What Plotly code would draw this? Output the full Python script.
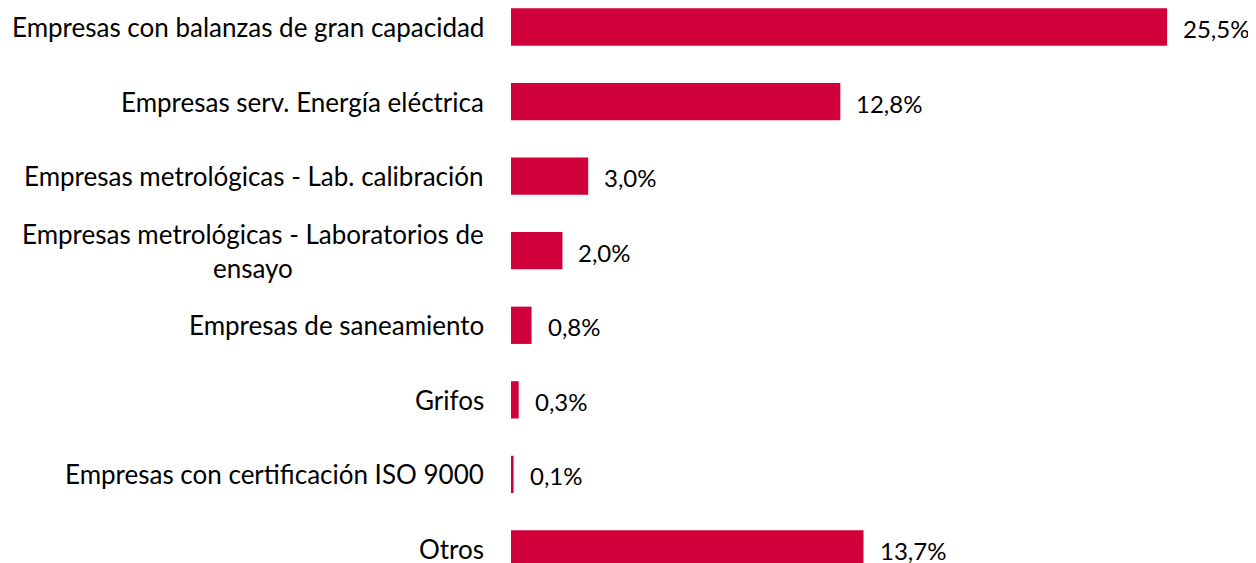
import plotly.graph_objects as go

categories = [
    "Empresas con balanzas de gran capacidad",
    "Empresas serv. Energía eléctrica",
    "Empresas metrológicas - Lab. calibración",
    "Empresas metrológicas - Laboratorios de<br>ensayo",
    "Empresas de saneamiento",
    "Grifos",
    "Empresas con certificación ISO 9000",
    "Otros",
]
values = [25.5, 12.8, 3.0, 2.0, 0.8, 0.3, 0.1, 13.7]
value_labels = ["25,5%", "12,8%", "3,0%", "2,0%", "0,8%", "0,3%", "0,1%", "13,7%"]

RED = "#D0003A"
FONT = "Lato"
LABEL_SIZE = 26
VALUE_SIZE = 24

ypos = list(range(len(categories)))

fig = go.Figure(go.Bar(
    x=values, y=ypos, orientation="h", width=0.5,
    marker=dict(color=RED, line=dict(width=0)),
    hoverinfo="skip",
))

annotations = []
for yp, cat, v, lab in zip(ypos, categories, values, value_labels):
    annotations.append(dict(x=0, y=yp, xref="x", yref="y", text=cat, showarrow=False,
                            xanchor="right", yanchor="middle", align="center", xshift=-26,
                            borderpad=0,
                            font=dict(family=FONT, size=LABEL_SIZE, color="#000000")))
    annotations.append(dict(x=v, y=yp, xref="x", yref="y", text=lab, showarrow=False,
                            xanchor="left", yanchor="middle", xshift=15, yshift=-1.5,
                            borderpad=0,
                            font=dict(family=FONT, size=VALUE_SIZE, color="#000000")))

fig.update_layout(
    width=1248, height=555,
    margin=dict(l=503, r=0, t=0, b=0),
    paper_bgcolor="white", plot_bgcolor="white",
    showlegend=False,
    xaxis=dict(range=[0, 745 / 25.73], visible=False),
    yaxis=dict(range=[(555 - 19) / 74.57, -19 / 74.57], visible=False),
    annotations=annotations,
)

fig.write_html("out.html")
